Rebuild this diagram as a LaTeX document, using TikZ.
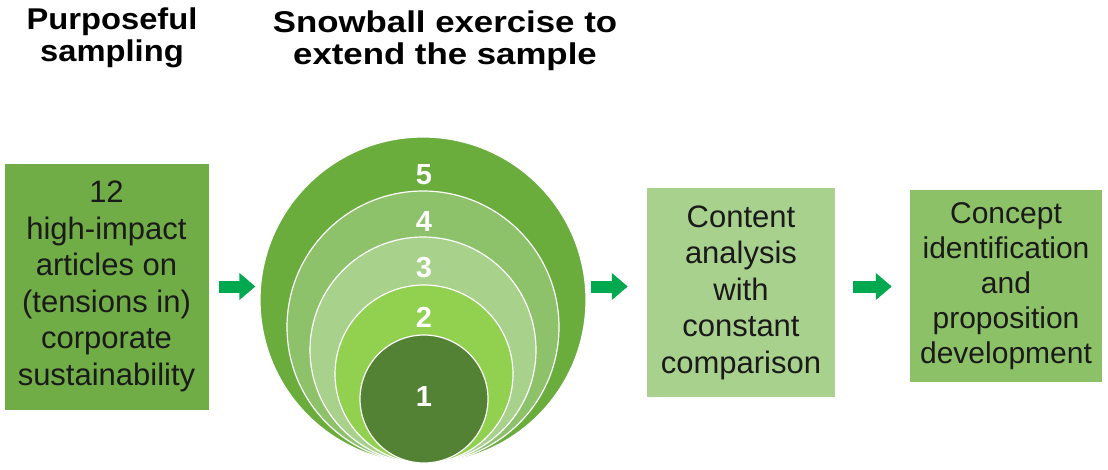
\documentclass[tikz,border=0pt]{standalone}
\usepackage{fontspec}
\setmainfont{Liberation Sans}
\usetikzlibrary{arrows.meta}
\definecolor{gbox1}{HTML}{70AD47}
\definecolor{gbox2}{HTML}{A9D18E}
\definecolor{gbox3}{HTML}{8CC168}
\definecolor{gc5}{HTML}{6AAD3D}
\definecolor{gc4}{HTML}{8DC26A}
\definecolor{gc3}{HTML}{A8D18B}
\definecolor{gc2}{HTML}{92D050}
\definecolor{gc1}{HTML}{548235}
\definecolor{garrow}{HTML}{00A84F}
\definecolor{txt}{HTML}{1A1A1A}
\tikzset{
  header/.style={align=center, text=black, font=\fontsize{30}{32}\selectfont\bfseries, inner sep=0pt, transform shape},
  stepbox/.style={rectangle, inner sep=0pt, align=center, text=txt, font=\fontsize{31}{36.5}\selectfont},
  ring/.style={circle, draw=white, line width=1.2pt, inner sep=0pt},
  num/.style={text=white, font=\fontsize{29}{30}\selectfont\bfseries, inner sep=0pt},
  blockarrow/.style={draw=garrow, line width=12pt, -{Triangle[width=26pt,length=16pt]}}
}
\begin{document}
\begin{tikzpicture}[x=1pt,y=-1pt]
\useasboundingbox[fill=white] (0,0) rectangle (1108,469);
% headers
\node[header, xscale=1.09] (h1) at (112,38) {Purposeful\\sampling};
\node[header, xscale=1.16] (h2) at (445,41) {Snowball exercise to\\extend the sample};
% box 1
\node[stepbox, fill=gbox1, minimum width=204pt, minimum height=246pt] (b1) at (106.5,286.5)
  {12\\high-impact\\articles on\\(tensions in)\\corporate\\sustainability};
% snowball circles
\node[ring, fill=gc5, minimum size=326pt] (c5) at (423,300) {};
\node[ring, fill=gc4, minimum size=272pt] (c4) at (423,327) {};
\node[ring, fill=gc3, minimum size=226pt] (c3) at (423,350) {};
\node[ring, fill=gc2, minimum size=178pt] (c2) at (424,374) {};
\node[ring, fill=gc1, minimum size=128pt] (c1) at (424,399) {};
\node[num] (n5) at (424,175) {5};
\node[num] (n4) at (424,222) {4};
\node[num] (n3) at (424,268) {3};
\node[num] (n2) at (424,317) {2};
\node[num] (n1) at (424,397) {1};
% box 2 and 3
\node[stepbox, fill=gbox2, minimum width=188pt, minimum height=209pt] (b2) at (741,292.5)
  {Content\\analysis\\with\\constant\\comparison};
\node[stepbox, fill=gbox3, minimum width=192pt, minimum height=192pt, font=\fontsize{30}{35}\selectfont] (b3) at (1006,286)
  {Concept\\identification\\and\\proposition\\development};
% arrows
\draw[blockarrow, shorten <=10pt, shorten >=4pt] (b1.east) -- (b1.east -| c5.west);
\draw[blockarrow, shorten <=4pt, shorten >=19pt] (c5.east |- b1.east) -- (b2.west |- b1.east);
\draw[blockarrow, shorten <=18pt, shorten >=18pt] (b2.east |- b1.east) -- (b3.west |- b1.east);
\end{tikzpicture}
\end{document}
